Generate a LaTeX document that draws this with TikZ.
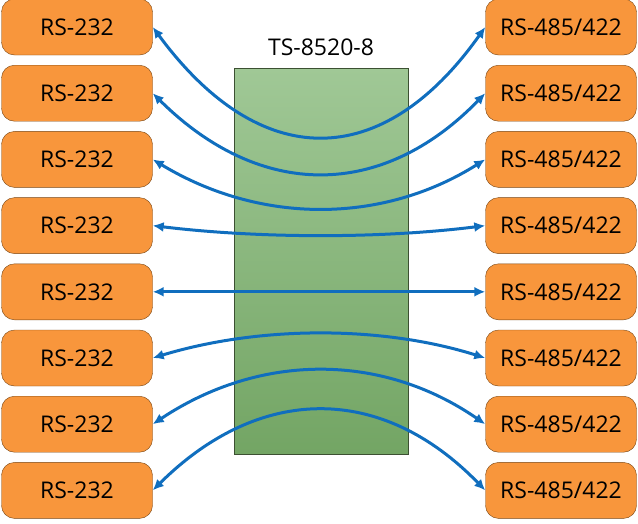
\documentclass[tikz,border=0pt]{standalone}
\usepackage{fontspec}
\setmainfont{Open Sans}
\usetikzlibrary{arrows.meta}

\tikzset{
  portbox/.style={draw={rgb,255:red,120;green,70;blue,20}, fill={rgb,255:red,248;green,150;blue,60}, rounded corners=13pt, minimum width=151pt, minimum height=56pt, inner sep=0pt, font=\fontsize{23}{26}\selectfont},
  link/.style={draw={rgb,255:red,16;green,110;blue,190}, line width=3pt, {Latex[length=11pt,width=10pt]}-{Latex[length=11pt,width=10pt]}}
}

\begin{document}
\begin{tikzpicture}[x=1pt,y=1pt,yscale=-1,xscale=1]
\useasboundingbox (0,0) rectangle (638,523);

%Shape: converter body
\draw [draw={rgb,255:red,60;green,80;blue,50}, top color={rgb,255:red,160;green,200;blue,150}, bottom color={rgb,255:red,115;green,165;blue,100}]  (234,68) rectangle (408,454) ;
% Text Node
\node (title) at (321,47) {\fontsize{23}{26}\selectfont TS-8520-8};

%Shape: ports and links
\foreach \i/\dy in {1/112,2/82,3/50,4/10,5/0,6/-25,7/-55,8/-82} {
  \pgfmathsetmacro{\yy}{27+66.2*(\i-1)}
  \node [portbox] (rs\i) at (77,\yy) {RS-232};
  \node [portbox] (rx\i) at (561,\yy) {RS-485/422};
  \draw [link] (rs\i.east) .. controls (260,\yy+1.3*\dy) and (382,\yy+1.3*\dy) .. (rx\i.west) ;
}

\end{tikzpicture}
\end{document}
